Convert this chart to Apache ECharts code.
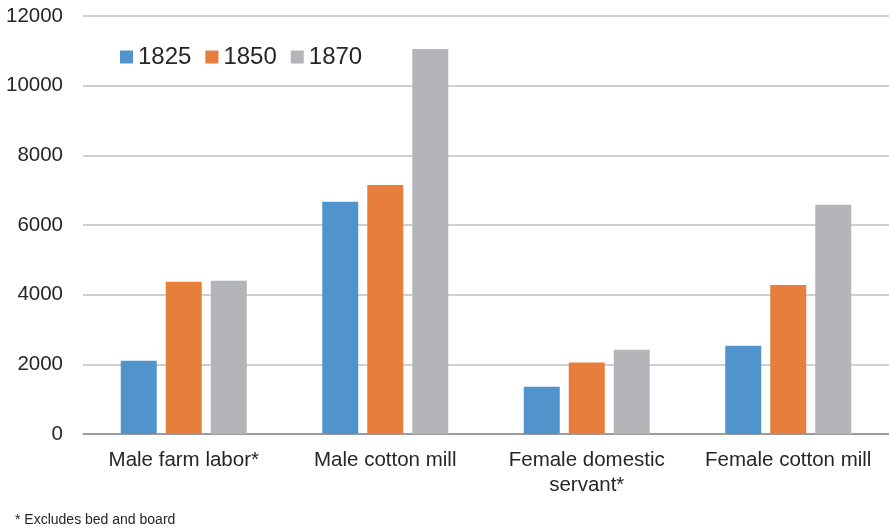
<!DOCTYPE html>
<html>
<head>
<meta charset="utf-8">
<script src="https://cdn.jsdelivr.net/npm/echarts@6/dist/echarts.min.js"></script>
<style>html,body{margin:0;padding:0;background:#fff;}#c{width:889px;height:528px;}</style>
</head>
<body>
<div id="c"></div>
<script>
var categories = ['Male farm labor*', 'Male cotton mill', 'Female domestic\nservant*', 'Female cotton mill'];
var years = ['1825', '1850', '1870'];
var values1825 = [2100, 6670, 1360, 2530];
var values1850 = [4370, 7150, 2050, 4280];
var values1870 = [4400, 11050, 2420, 6580];
var yTicks = [0, 2000, 4000, 6000, 8000, 10000, 12000];
var colors = ['#5094CB', '#E87E3C', '#B4B5B8'];
var font = '"Liberation Sans", Arial, sans-serif';

var chart = echarts.init(document.getElementById('c'));
var seriesData = [values1825, values1850, values1870];
chart.setOption({
  animation: false,
  color: colors,
  textStyle: { fontFamily: font },
  grid: { left: 83, right: -1, top: 16, bottom: 94, containLabel: false },
  legend: {
    left: 115, top: 40,
    itemWidth: 13, itemHeight: 13, itemGap: 14,
    icon: 'rect',
    textStyle: { fontSize: 24, color: '#262626', fontFamily: font },
    data: years
  },
  xAxis: {
    type: 'category',
    data: categories,
    axisLine: { lineStyle: { color: '#8C8C8C', width: 1.5 } },
    axisTick: { show: false },
    axisLabel: { fontSize: 20.5, color: '#262626', margin: 14, lineHeight: 25, fontFamily: font, interval: 0 }
  },
  yAxis: {
    type: 'value',
    min: yTicks[0], max: yTicks[yTicks.length - 1], interval: 2000,
    axisLine: { show: false },
    axisTick: { show: false },
    splitLine: { lineStyle: { color: '#BFBFBF', width: 1.5 } },
    axisLabel: { fontSize: 20.5, color: '#262626', margin: 20, fontFamily: font, formatter: function (v) { return String(v); } }
  },
  series: years.map(function (y, i) {
    return { name: y, type: 'bar', data: seriesData[i], barWidth: 36, barGap: '25%' };
  }),
  graphic: [{
    type: 'text', left: 15, top: 513,
    style: { text: '* Excludes bed and board', fontSize: 14, fill: '#262626', fontFamily: font }
  }]
});
</script>
</body>
</html>
